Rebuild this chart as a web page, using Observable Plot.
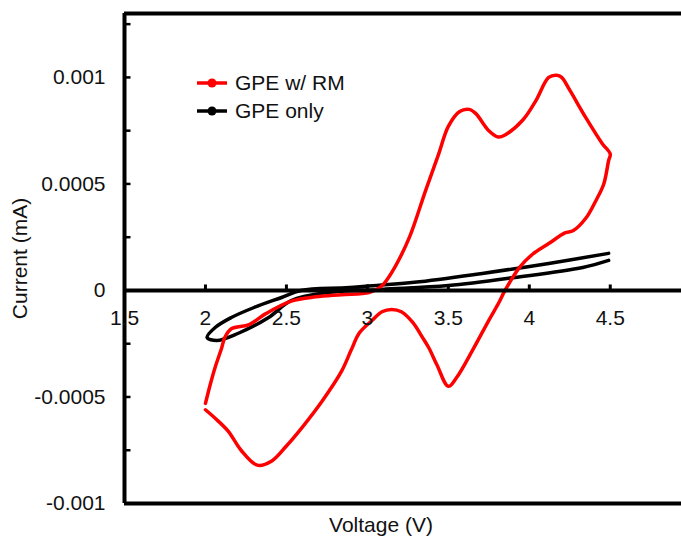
<!DOCTYPE html>
<html>
<head>
<meta charset="utf-8">
<script src="https://cdn.jsdelivr.net/npm/d3@7"></script>
<script src="https://cdn.jsdelivr.net/npm/@observablehq/plot@0.6"></script>
<style>
  body { margin: 0; background: #fff; font-family: "Liberation Sans", Arial, sans-serif; }
  #wrap { position: relative; width: 681px; height: 545px; }
  #legend { position: absolute; left: 196px; top: 69px; font-size: 21px; color: #111; }
  #legend .row { display: flex; align-items: center; height: 28px; }
  #legend svg { margin-right: 7px; }
</style>
</head>
<body>
<div id="wrap">
  <div id="chart"></div>
  <div id="legend"></div>
</div>
<script>
// Cyclic voltammetry, GPE with redox mediator: voltage (V) and current (mA)
const rmVoltage = [
  2.00, 2.06, 2.14, 2.22, 2.32, 2.41, 2.50, 2.60, 2.72, 2.84, 2.90,
  2.95, 3.03, 3.09, 3.15, 3.21, 3.28, 3.34, 3.38, 3.43, 3.50, 3.55,
  3.65, 3.75, 3.81, 3.85, 3.94, 4.02, 4.12, 4.22, 4.27, 4.35, 4.41,
  4.46, 4.49, 4.50,
  4.45, 4.35, 4.25, 4.20, 4.17, 4.12, 4.04, 3.96, 3.85, 3.81, 3.75,
  3.67, 3.63, 3.57, 3.50, 3.44, 3.36, 3.26, 3.17, 3.10, 3.07, 3.01,
  2.84, 2.68, 2.53, 2.37, 2.27, 2.16, 2.12, 2.10, 2.06, 2.03, 2.00
];
const rmCurrent = [
  -0.00056, -0.00060, -0.00066, -0.00075, -0.00082, -0.00080, -0.00073, -0.00064, -0.00052, -0.00038, -0.00028,
  -0.00020, -0.00014, -0.00010, -0.000089, -0.00010, -0.00015, -0.00022, -0.00027, -0.00035, -0.00045, -0.00041,
  -0.00028, -0.00014, -0.00006, 0.0, 0.000108, 0.00017, 0.00022, 0.00027, 0.00028, 0.00034, 0.00042,
  0.00050, 0.00061, 0.00064,
  0.00069, 0.00081, 0.00094, 0.00100, 0.00101, 0.00100, 0.00089, 0.00080, 0.00073, 0.00072, 0.00075,
  0.00083, 0.00085, 0.00084, 0.00077, 0.00064, 0.00047, 0.00025, 0.00011, 0.00003, 0.00001, -0.00001,
  -0.00002, -0.00003, -0.00005, -0.00011, -0.00016, -0.00018, -0.00022, -0.00027, -0.00036, -0.00044, -0.00053
];

// Cyclic voltammetry, GPE alone
const gpeVoltage = [
  4.49, 4.12, 3.71, 3.29, 2.89, 2.59, 2.47, 2.30, 2.16, 2.06, 2.01,
  2.07, 2.20, 2.39, 2.53, 2.75, 3.09, 3.50, 3.91, 4.33, 4.49
];
const gpeCurrent = [
  0.000174, 0.000127, 0.000080, 0.000038, 0.000014, 0.0, -0.000033, -0.000080, -0.000127, -0.000174, -0.000221,
  -0.000235, -0.000202, -0.000127, -0.000047, -0.000010, 0.000005, 0.000023, 0.000061, 0.000108, 0.000141
];

const seriesNames = ["GPE w/ RM", "GPE only"];
const seriesColors = ["#ff0000", "#000000"];

const xDomain = [1.5, 4.94];
const yDomain = [-0.001, 0.0013];
const xLabels = [1.5, 2, 2.5, 3, 3.5, 4, 4.5];
const xTicks = [2, 2.5, 3, 3.5, 4, 4.5];
const yLabels = [-0.001, -0.0005, 0, 0.0005, 0.001];
const yTicks = [-0.00075, -0.0005, -0.00025, 0.00025, 0.0005, 0.00075, 0.001, 0.00125];

const rm = rmVoltage.map((v, i) => ({v, i: rmCurrent[i]}));
const gpe = gpeVoltage.map((v, i) => ({v, i: gpeCurrent[i]}));

// short tick glyphs: upward on the zero line, rightward (inward) on the left edge
const tickUp = {draw(ctx) { ctx.moveTo(0, 0); ctx.lineTo(0, -6); }};
const tickIn = {draw(ctx) { ctx.moveTo(0, 0); ctx.lineTo(6, 0); }};

const chart = Plot.plot({
  width: 681,
  height: 545,
  marginLeft: 124,
  marginRight: 0,
  marginTop: 13,
  marginBottom: 42,
  style: {fontFamily: "Liberation Sans, Arial, sans-serif", fontSize: "21px", background: "white", color: "#111"},
  x: {domain: xDomain, axis: null},
  y: {domain: yDomain, axis: null},
  marks: [
    Plot.line(gpe, {x: "v", y: "i", stroke: seriesColors[1], strokeWidth: 3.5, curve: "catmull-rom"}),
    Plot.line(rm, {x: "v", y: "i", stroke: seriesColors[0], strokeWidth: 3.5, curve: "catmull-rom"}),
    // frame (left, top, bottom) and zero line
    Plot.ruleX([xDomain[0]], {stroke: "black", strokeWidth: 4}),
    Plot.ruleY(yDomain, {stroke: "black", strokeWidth: 4}),
    Plot.ruleY([0], {stroke: "black", strokeWidth: 4}),
    Plot.dot(xTicks, {x: d => d, y: 0, symbol: tickUp, fill: "none", stroke: "black", strokeWidth: 3}),
    Plot.dot(yTicks, {x: xDomain[0], y: d => d, symbol: tickIn, fill: "none", stroke: "black", strokeWidth: 2.5}),
    // tick labels
    Plot.text(xLabels, {x: d => d, y: 0, dy: 28, text: d => String(d), fontSize: 21}),
    Plot.text(yLabels, {y: d => d, frameAnchor: "left", dx: -19, textAnchor: "end", text: d => String(d), fontSize: 21}),
    // axis titles
    Plot.text(["Current (mA)"], {frameAnchor: "left", dx: -104, textAnchor: "middle", rotate: -90, fontSize: 21}),
    Plot.text(["Voltage (V)"], {frameAnchor: "bottom", dx: -22, dy: 28, fontSize: 21})
  ]
});
document.getElementById("chart").append(chart);

// legend
const legend = d3.select("#legend");
seriesNames.forEach((name, k) => {
  const row = legend.append("div").attr("class", "row");
  const s = row.append("svg").attr("width", 32).attr("height", 14);
  s.append("line").attr("x1", 1).attr("x2", 31).attr("y1", 7).attr("y2", 7)
    .attr("stroke", seriesColors[k]).attr("stroke-width", 3.5);
  s.append("circle").attr("cx", 16).attr("cy", 7).attr("r", 4.5).attr("fill", seriesColors[k]);
  row.append("span").text(name);
});
</script>
</body>
</html>
